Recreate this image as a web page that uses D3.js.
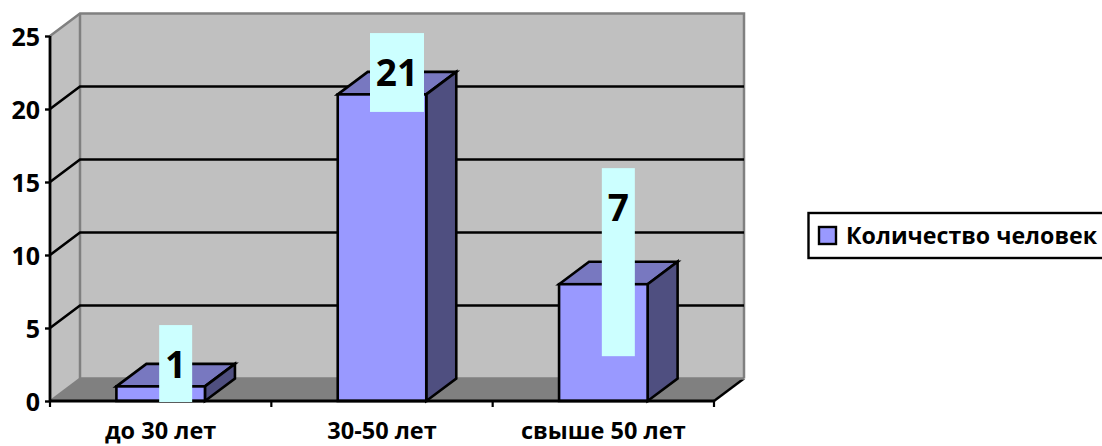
<!DOCTYPE html>
<html><head><meta charset="utf-8">
<script src="https://cdn.jsdelivr.net/npm/d3@7"></script>
<style>html,body{margin:0;padding:0;background:#fff;overflow:hidden}svg{display:block}
text{font-family:"Open Sans",sans-serif;font-weight:700;fill:#000}</style>
</head><body><svg id="c" width="1102" height="446"></svg>
<script>
const categories = ["до 30 лет", "30-50 лет", "свыше 50 лет"];
const barHeights = [1, 21, 8];          // height as drawn
const dataLabels = ["1", "21", "7"];    // label as printed (third differs from its bar in the source)
const labelBoxTop = [5.2, 25.2, 15.95];
const labelBoxBottom = [-0.07, 19.8, 3.07];
const yTicks = [0, 5, 10, 15, 20, 25];
const seriesName = "Количество человек";

const dx = 30, dy = -22.5;
const svg = d3.select("#c");
const x = d3.scaleBand().domain(categories).range([50, 714]).paddingInner(0.6).paddingOuter(0.3);
const band = d3.scaleBand().domain(categories).range([50, 714]);
const y = d3.scaleLinear().domain([0, 25]).range([401, 36]);
const poly = pts => pts.map(p => p.join(",")).join(" ");
const [xa, xb] = band.range();
const y0 = y(0), yT = y(25);

// walls
svg.append("polygon").attr("fill", "#c0c0c0").attr("points", poly([[xa, y0], [xa, yT], [xa + dx, yT + dy], [xb + dx, yT + dy], [xb + dx, y0 + dy], [xa + dx, y0 + dy]]));
svg.append("polygon").attr("fill", "#808080").attr("points", poly([[xa, y0], [xa + dx, y0 + dy], [xb + dx, y0 + dy], [xb, y0]]));
svg.append("polyline").attr("fill", "none").attr("stroke", "#808080").attr("stroke-width", 2.5)
  .attr("points", poly([[xa, yT], [xa + dx, yT + dy], [xb + dx, yT + dy], [xb + dx, y0 + dy]]));
svg.append("line").attr("stroke", "#000").attr("stroke-width", 2.4).attr("x1", xb).attr("y1", y0).attr("x2", xb + dx).attr("y2", y0 + dy);
svg.append("polyline").attr("fill", "none").attr("stroke", "#808080").attr("stroke-width", 2.5)
  .attr("points", poly([[xa + dx, yT + dy], [xa + dx, y0 + dy], [xb + dx, y0 + dy]]));
svg.append("line").attr("stroke", "#808080").attr("stroke-width", 2).attr("x1", xa).attr("y1", y0).attr("x2", xa + dx).attr("y2", y0 + dy);

// gridlines
svg.append("g").selectAll("polyline").data(yTicks.filter(t => t > 0 && t < 25)).join("polyline")
  .attr("fill", "none").attr("stroke", "#000").attr("stroke-width", 2.6)
  .attr("points", t => poly([[xa, y(t)], [xa + dx, y(t) + dy], [xb + dx, y(t) + dy]]));

// bars
const bars = svg.append("g").selectAll("g").data(categories).join("g")
  .attr("stroke", "#000").attr("stroke-width", 2.6).attr("stroke-linejoin", "miter");
bars.each(function (c, i) {
  const g = d3.select(this), l = x(c), r = l + x.bandwidth(), t = y(barHeights[i]);
  g.append("polygon").attr("fill", "#7878c0").attr("points", poly([[l, t], [l + dx, t + dy], [r + dx, t + dy], [r, t]]));
  g.append("polygon").attr("fill", "#4f4f80").attr("points", poly([[r, t], [r + dx, t + dy], [r + dx, y0 + dy], [r, y0]]));
  g.append("rect").attr("fill", "#9999ff").attr("x", l).attr("y", t).attr("width", r - l).attr("height", y0 - t);
});

// axes
const yAxis = svg.append("g").attr("transform", `translate(${xa},0)`)
  .call(d3.axisLeft(y).tickValues(yTicks).tickSize(5).tickPadding(5));
yAxis.selectAll("path").remove();
yAxis.selectAll("line").attr("stroke", "#000").attr("stroke-width", 2.4);
yAxis.selectAll("text").attr("font-size", 25).attr("fill", "#000").attr("dy", "0.38em").style("font-family", "'Open Sans',sans-serif");
svg.append("line").attr("stroke", "#000").attr("stroke-width", 2.8).attr("x1", xa).attr("x2", xa).attr("y1", yT).attr("y2", y0 + 1);

const tickX = [...categories.map(c => band(c)), xb];
svg.append("g").selectAll("line").data(tickX).join("line")
  .attr("stroke", "#000").attr("stroke-width", 2.2)
  .attr("x1", d => d).attr("x2", d => d).attr("y1", y0).attr("y2", y0 + 6);
svg.append("line").attr("stroke", "#000").attr("stroke-width", 2.8).attr("x1", xa).attr("x2", xb).attr("y1", y0).attr("y2", y0);

svg.append("g").selectAll("text").data(categories).join("text")
  .attr("x", c => band(c) + band.bandwidth() / 2).attr("y", 439)
  .attr("text-anchor", "middle").attr("font-size", 23.5).text(c => c);

// data labels
const lab = svg.append("g").selectAll("g").data(categories).join("g");
lab.each(function (c, i) {
  const g = d3.select(this), cx = x(c) + x.bandwidth() / 2 + dx / 2;
  const w = dataLabels[i].length > 1 ? 54 : 33;
  g.append("rect").attr("fill", "#ccffff").attr("x", cx - w / 2).attr("width", w)
    .attr("y", y(labelBoxTop[i])).attr("height", y(labelBoxBottom[i]) - y(labelBoxTop[i]));
  g.append("text").attr("x", cx).attr("y", y(labelBoxTop[i]) + 40).attr("dy", "0.36em")
    .attr("text-anchor", "middle").attr("font-size", 37).text(dataLabels[i]);
});

// legend
const leg = svg.append("g");
leg.append("rect").attr("x", 808.5).attr("y", 213).attr("width", 300).attr("height", 45).attr("fill", "#fff").attr("stroke", "#000").attr("stroke-width", 2.4);
leg.append("rect").attr("x", 819).attr("y", 227).attr("width", 17).attr("height", 17).attr("fill", "#9999ff").attr("stroke", "#000").attr("stroke-width", 2.4);
leg.append("text").attr("x", 846).attr("y", 236).attr("dy", "0.36em").attr("font-size", 23.2).text(seriesName);
</script></body></html>
